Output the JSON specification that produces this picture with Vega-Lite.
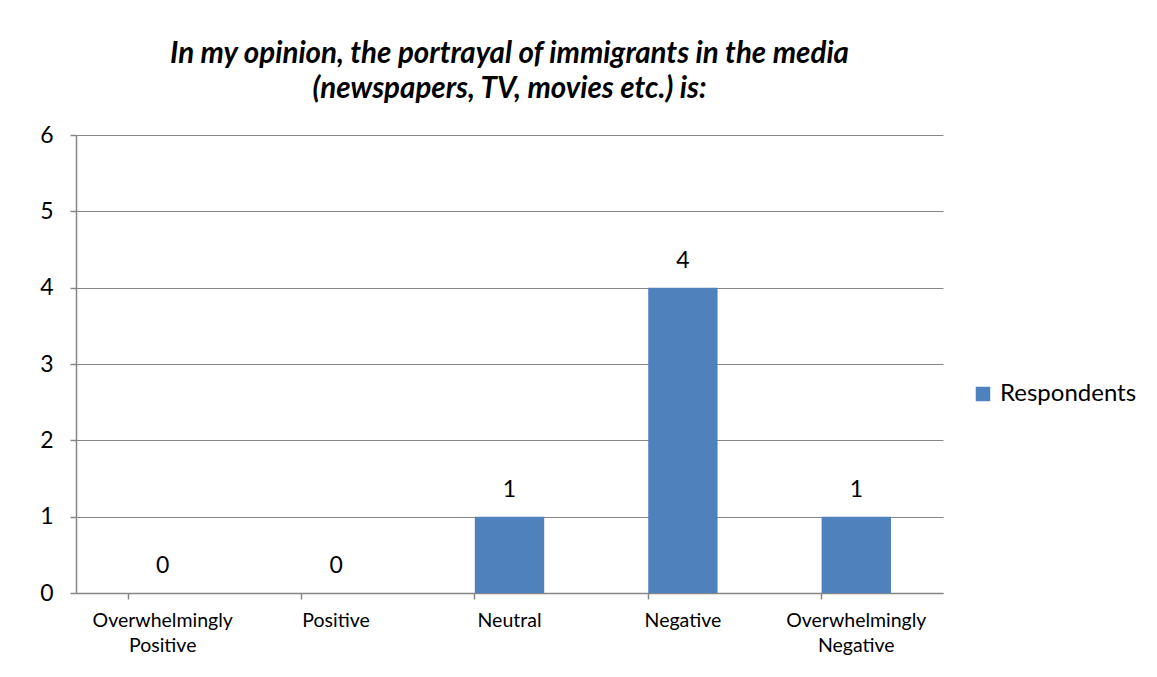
{
  "$schema": "https://vega.github.io/schema/vega-lite/v6.json",
  "width": 867,
  "height": 458,
  "autosize": {"type": "none"},
  "padding": {"left": 76, "top": 135, "right": 214, "bottom": 84},
  "background": "white",
  "title": {
    "text": ["In my opinion, the portrayal of immigrants in the media", "(newspapers, TV, movies etc.) is:"],
    "font": "Lato",
    "fontSize": 29.5,
    "fontWeight": "bold",
    "fontStyle": "italic",
    "color": "#000000",
    "lineHeight": 35,
    "offset": 20,
    "anchor": "middle"
  },
  "data": {
    "values": [
      {"category": "Overwhelmingly Positive", "value": 0, "series": "Respondents"},
      {"category": "Positive", "value": 0, "series": "Respondents"},
      {"category": "Neutral", "value": 1, "series": "Respondents"},
      {"category": "Negative", "value": 4, "series": "Respondents"},
      {"category": "Overwhelmingly Negative", "value": 1, "series": "Respondents"}
    ]
  },
  "encoding": {
    "x": {
      "field": "category",
      "type": "nominal",
      "sort": null,
      "scale": {"paddingInner": 0.6, "paddingOuter": 0.3},
      "axis": {
        "title": null,
        "labelAngle": 0,
        "labelExpr": "datum.label == 'Overwhelmingly Positive' ? ['Overwhelmingly', 'Positive'] : datum.label == 'Overwhelmingly Negative' ? ['Overwhelmingly', 'Negative'] : datum.label",
        "labelFont": "Lato",
        "labelFontSize": 19.5,
        "labelLineHeight": 25,
        "labelColor": "#000000",
        "labelPadding": 12,
        "bandPosition": 0,
        "tickSize": 6,
        "tickColor": "#868686",
        "domainColor": "#868686",
        "domainWidth": 1.5,
        "tickWidth": 1.5,
        "grid": false
      }
    },
    "y": {
      "field": "value",
      "type": "quantitative",
      "scale": {"domain": [0, 6]},
      "axis": {
        "title": null,
        "values": [0, 1, 2, 3, 4, 5, 6],
        "labelOverlap": false,
        "labelFont": "Lato",
        "labelFontSize": 23,
        "labelColor": "#000000",
        "labelPadding": 17,
        "tickSize": 6,
        "tickColor": "#868686",
        "domainColor": "#868686",
        "domainWidth": 1.5,
        "tickWidth": 1.5,
        "grid": true,
        "gridColor": "#868686",
        "gridWidth": 1.2
      }
    }
  },
  "layer": [
    {
      "mark": {"type": "bar", "color": "#4F81BD"},
      "encoding": {
        "color": {
          "field": "series",
          "type": "nominal",
          "scale": {"range": ["#4F81BD"]},
          "legend": {
            "title": null,
            "orient": "none",
            "legendX": 895,
            "legendY": 247,
            "symbolType": "square",
            "symbolSize": 210,
            "labelFont": "Lato",
            "labelFontSize": 24,
            "labelColor": "#000000",
            "labelOffset": 5
          }
        }
      }
    },
    {
      "mark": {"type": "text", "font": "Lato", "fontSize": 23, "color": "#000000", "baseline": "alphabetic", "dy": -20},
      "encoding": {
        "text": {"field": "value", "type": "quantitative"}
      }
    }
  ],
  "config": {
    "view": {"stroke": null}
  }
}
